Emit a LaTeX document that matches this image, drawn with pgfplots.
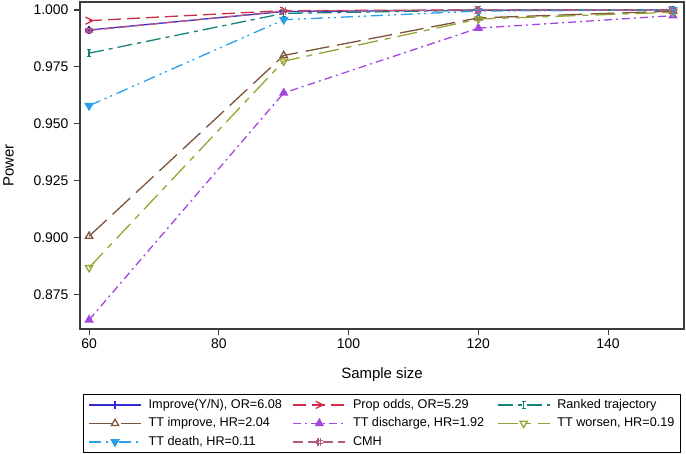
\documentclass[border=0pt]{standalone}
\usepackage{fontspec}
\setmainfont{Liberation Sans}
\usepackage{pgfplots}
\pgfplotsset{compat=1.18}

\definecolor{cImp}{RGB}{50,45,210}
\definecolor{cProp}{RGB}{205,45,70}
\definecolor{cRank}{RGB}{25,130,120}
\definecolor{cTTi}{RGB}{125,85,60}
\definecolor{cTTd}{RGB}{165,70,225}
\definecolor{cTTw}{RGB}{150,165,50}
\definecolor{cDeath}{RGB}{40,160,235}
\definecolor{cCMH}{RGB}{180,90,130}
\definecolor{axgray}{RGB}{60,60,60}

\pgfdeclareplotmark{chev}{%
 \pgfpathmoveto{\pgfqpoint{-\pgfplotmarksize}{\pgfplotmarksize}}%
 \pgfpathlineto{\pgfqpoint{\pgfplotmarksize}{0pt}}%
 \pgfpathlineto{\pgfqpoint{-\pgfplotmarksize}{-\pgfplotmarksize}}%
 \pgfusepathqstroke}
\pgfdeclareplotmark{ibeam}{%
 \pgfpathmoveto{\pgfqpoint{-0.6\pgfplotmarksize}{\pgfplotmarksize}}%
 \pgfpathlineto{\pgfqpoint{0.6\pgfplotmarksize}{\pgfplotmarksize}}%
 \pgfpathmoveto{\pgfqpoint{0pt}{\pgfplotmarksize}}%
 \pgfpathlineto{\pgfqpoint{0pt}{-\pgfplotmarksize}}%
 \pgfpathmoveto{\pgfqpoint{-0.6\pgfplotmarksize}{-\pgfplotmarksize}}%
 \pgfpathlineto{\pgfqpoint{0.6\pgfplotmarksize}{-\pgfplotmarksize}}%
 \pgfusepathqstroke}
\pgfdeclareplotmark{hash}{%
 \pgfpathmoveto{\pgfqpoint{-0.4\pgfplotmarksize}{\pgfplotmarksize}}%
 \pgfpathlineto{\pgfqpoint{-0.4\pgfplotmarksize}{-\pgfplotmarksize}}%
 \pgfpathmoveto{\pgfqpoint{0.4\pgfplotmarksize}{\pgfplotmarksize}}%
 \pgfpathlineto{\pgfqpoint{0.4\pgfplotmarksize}{-\pgfplotmarksize}}%
 \pgfpathmoveto{\pgfqpoint{-\pgfplotmarksize}{0.4\pgfplotmarksize}}%
 \pgfpathlineto{\pgfqpoint{\pgfplotmarksize}{0.4\pgfplotmarksize}}%
 \pgfpathmoveto{\pgfqpoint{-\pgfplotmarksize}{-0.4\pgfplotmarksize}}%
 \pgfpathlineto{\pgfqpoint{\pgfplotmarksize}{-0.4\pgfplotmarksize}}%
 \pgfusepathqstroke}

\newcommand{\lA}[1]{\makebox[144bp][l]{#1}}
\newcommand{\lC}[1]{\makebox[118bp][l]{#1}}

\begin{document}
\begin{tikzpicture}
\begin{axis}[
  scale only axis,
  width=604bp, height=327bp,
  xmin=58.6, xmax=151.7,
  ymin=0.8597, ymax=1.0035,
  xtick={60,80,100,120,140},
  ytick={0.875,0.9,0.925,0.95,0.975,1.0},
  yticklabel style={/pgf/number format/fixed, /pgf/number format/fixed zerofill, /pgf/number format/precision=3, xshift=-2bp},
  /pgf/number format/assume math mode=true,
  tick label style={font=\fontsize{14}{16}\selectfont},
  label style={font=\fontsize{15}{17}\selectfont},
  tick align=outside, tick pos=left,
  major tick length=6bp,
  axis line style={axgray, line width=1.2bp},
  every tick/.style={axgray, line width=1.1bp},
  xlabel={Sample size},
  ylabel={Power},
  xlabel style={at={(axis description cs:0.5,-0.1407)}, anchor=center},
  ylabel style={at={(axis description cs:-0.1184,0.5)}, anchor=center},
  every axis plot/.append style={line width=1.3bp, mark size=3.6bp},
  legend columns=3,
  legend image code/.code={\draw[mark repeat=2,mark phase=2] plot coordinates {(0bp,0bp) (26bp,0bp) (52bp,0bp)};},
  legend style={at={(0.005,-0.1988)}, anchor=north west,
    draw=black, line width=0.8bp, inner xsep=5bp, inner ysep=3.5bp,
    font=\fontsize{12.7}{14}\selectfont,
    nodes={inner sep=0pt, text height=10.5bp, text depth=3.5bp},
    row sep=4.5bp, column sep=0pt,
    /tikz/every odd column/.append style={column sep=7bp}},
]
\addplot[cImp, solid, mark=+, mark options={solid}]
  coordinates {(60,0.9912) (90,0.9993) (120,0.9999) (150,1.0)};
\addlegendentry{\lA{Improve(Y/N), OR=6.08}}
\addplot[cProp, dash pattern=on 13bp off 6bp, mark=chev, mark options={solid}]
  coordinates {(60,0.9953) (90,0.9997) (120,1.0) (150,1.0)};
\addlegendentry{\lA{Prop odds, OR=5.29}}
\addplot[cRank, dash pattern=on 15bp off 5bp on 4bp off 5bp, mark=ibeam, mark options={solid}]
  coordinates {(60,0.981) (90,0.9985) (120,0.9999) (150,1.0)};
\addlegendentry{\lC{Ranked trajectory}}
\addplot[cTTi, dash pattern=on 24bp off 8bp, mark=triangle, mark size=4.2bp, mark options={solid, fill=white}]
  coordinates {(60,0.9005) (90,0.980) (120,0.9965) (150,0.9995)};
\addlegendentry{\lA{TT improve, HR=2.04}}
\addplot[cTTd, dash pattern=on 8bp off 4bp on 2bp off 4bp, mark=triangle*, mark size=4.2bp, mark options={solid}]
  coordinates {(60,0.8637) (90,0.9635) (120,0.992) (150,0.9975)};
\addlegendentry{\lA{TT discharge, HR=1.92}}
\addplot[cTTw, dash pattern=on 20bp off 7bp on 6bp off 7bp, mark=triangle, mark size=4.2bp, mark options={solid, fill=white, rotate=180}]
  coordinates {(60,0.8867) (90,0.9775) (120,0.996) (150,0.999)};
\addlegendentry{\lC{TT worsen, HR=0.19}}
\addplot[cDeath, dash pattern=on 12bp off 5bp on 2bp off 4bp on 2bp off 5bp, mark=triangle*, mark size=4.2bp, mark options={solid, rotate=180}]
  coordinates {(60,0.9579) (90,0.9957) (120,0.9995) (150,1.0)};
\addlegendentry{\lA{TT death, HR=0.11}}
\addplot[cCMH, dash pattern=on 10bp off 5bp, mark=hash, mark options={solid}]
  coordinates {(60,0.991) (90,0.9995) (120,1.0) (150,1.0)};
\addlegendentry{\lA{CMH}}
\coordinate (o) at (rel axis cs:0,0);
\end{axis}
\pgfresetboundingbox
\path (o) ++(-80bp,-125bp) rectangle ++(686bp,454bp);
\end{tikzpicture}
\end{document}
